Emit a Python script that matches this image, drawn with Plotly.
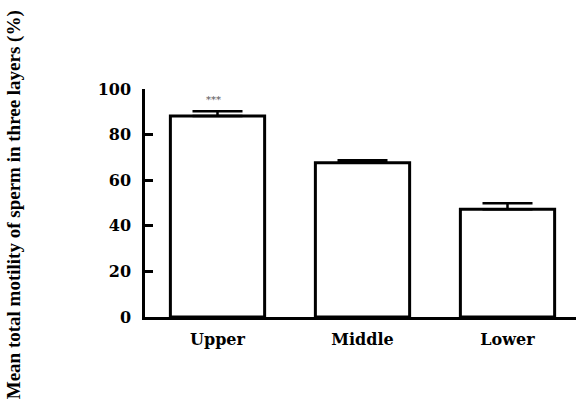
import plotly.graph_objects as go

categories = ["Upper", "Middle", "Lower"]
means = [88.2, 67.7, 47.3]
sem = [2.0, 1.1, 2.6]
y_ticks = [0, 20, 40, 60, 80, 100]
significance = ["***", "", ""]

fig = go.Figure()
fig.add_trace(go.Bar(
    x=list(range(len(categories))),
    y=means,
    width=0.65,
    marker=dict(color="white", line=dict(color="black", width=3)),
    error_y=dict(type="data", array=sem, arrayminus=[0] * len(sem), symmetric=False,
                 color="black", thickness=2.5, width=25),
    showlegend=False,
))

for i, s in enumerate(significance):
    if s:
        fig.add_annotation(x=i, y=means[i] + sem[i], text=s, showarrow=False,
                           yanchor="bottom", yshift=4, xshift=-4,
                           font=dict(family="DejaVu Serif", size=10, color="#555555"))

fig.add_annotation(xref="paper", yref="paper", x=-131 / 431, y=0.49,
                   text="<b>Mean total motility of sperm in three layers (%)</b>",
                   textangle=-90, showarrow=False, xanchor="center", yanchor="middle",
                   font=dict(family="Liberation Serif", size=19, color="black"))

fig.update_layout(
    width=576, height=408,
    margin=dict(l=145, r=0, t=89, b=91),
    paper_bgcolor="white", plot_bgcolor="white",
    xaxis=dict(range=[-0.5, -0.5 + 431 / 145], tickvals=list(range(len(categories))),
               ticktext=["<b>%s</b>" % c for c in categories], showgrid=False, zeroline=False,
               showline=True, linecolor="black", linewidth=2.5, ticks="",
               tickfont=dict(family="DejaVu Serif", size=16, color="black"),
               ticklabelstandoff=6),
    yaxis=dict(range=[0, 100], tickvals=y_ticks, ticktext=["<b>%d</b>" % v for v in y_ticks],
               showgrid=False, zeroline=False, showline=True, linecolor="black", linewidth=2.5,
               ticks="inside", ticklen=8, tickwidth=2.5, tickcolor="black",
               tickfont=dict(family="DejaVu Serif", size=16, color="black"),
               ticklabelstandoff=8),
)

fig.write_html("out.html", config={"displayModeBar": False},
               post_script="document.body.style.margin='0';")
